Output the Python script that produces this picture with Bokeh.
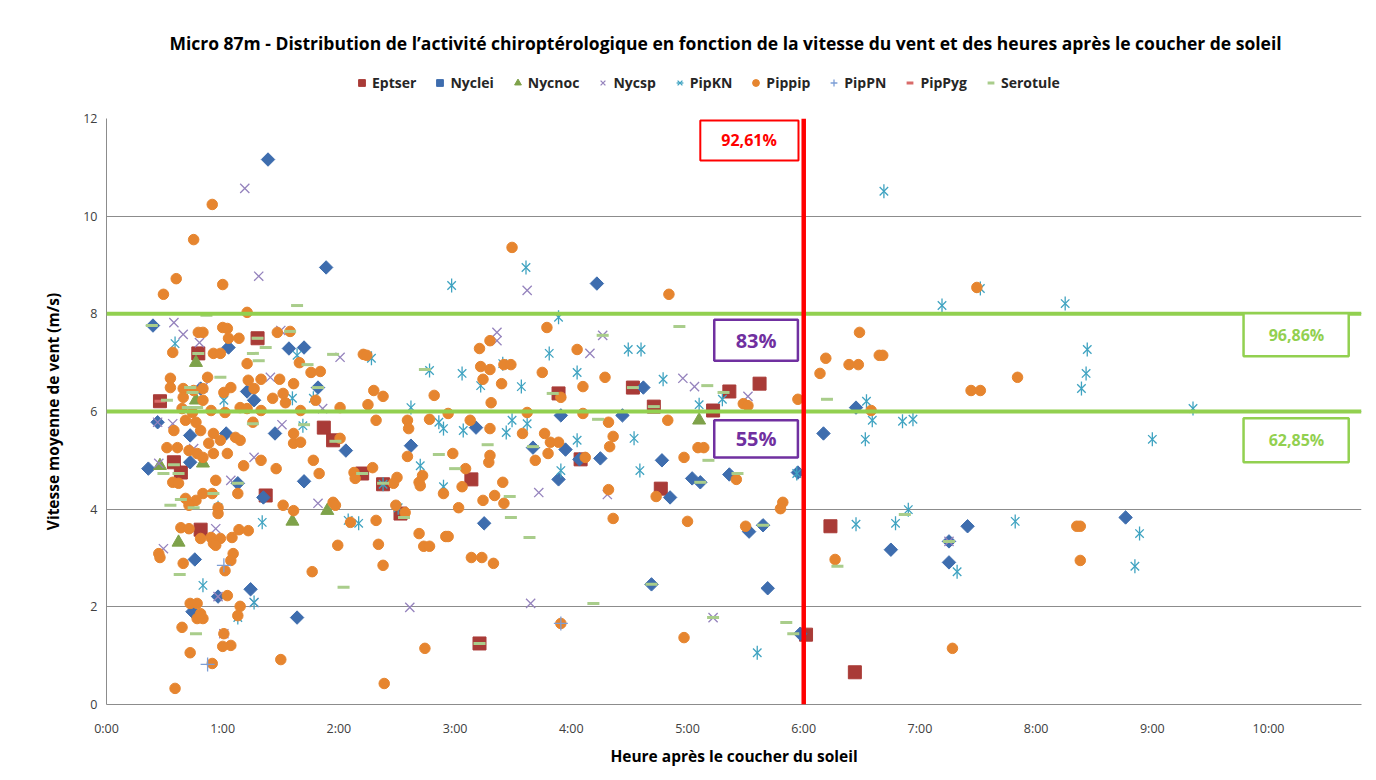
import numpy as np
from bokeh.plotting import figure
from bokeh.layouts import column
from bokeh.models import (Span, Label, BoxAnnotation, Legend, LegendItem, FixedTicker,
                          CustomJSTickFormatter)
from bokeh.embed import file_html
from bokeh.resources import INLINE

# ---------------- data (hours after sunset, mean wind speed m/s) ----------------
eptser_h = [0.79,1.30,0.46,1.87,1.95,0.58,0.64,1.37,0.81,2.20,2.38,2.53,3.14,3.21,3.89,4.53,5.36,5.62,4.71,5.22,4.08,4.77,6.02,6.23,6.44]
eptser_v = [7.19,7.50,6.21,5.67,5.41,4.96,4.75,4.28,3.58,4.73,4.51,3.91,4.61,1.25,6.37,6.49,6.41,6.57,6.10,6.02,5.02,4.42,1.43,3.65,0.66]

nyclei = [(1.39,11.16),(1.89,8.95),(4.22,8.62),(0.40,7.76),(1.05,7.31),(1.57,7.29),(1.70,7.31),(1.82,6.49),
          (0.81,6.47),(1.21,6.41),(1.27,6.23),(0.44,5.78),(0.72,5.51),(1.03,5.55),(1.45,5.55),(2.06,5.20),
          (0.36,4.83),(0.72,4.96),(1.13,4.53),(1.70,4.57),(1.35,4.24),(0.76,2.97),(1.24,2.36),(0.96,2.21),
          (0.74,1.90),(1.64,1.78),(2.62,5.30),(3.18,5.67),(3.67,5.26),(3.91,5.92),(3.95,5.22),(4.07,5.02),
          (3.25,3.71),(3.89,4.61),(4.62,6.49),(4.44,5.92),(4.25,5.04),(4.78,5.00),(5.04,4.63),(5.11,4.55),
          (5.36,4.71),(4.85,4.24),(5.53,3.54),(5.65,3.67),(4.69,2.46),(5.69,2.38),(5.97,1.45),(5.95,4.75),
          (6.17,5.55),(6.45,6.08),(6.75,3.17),(7.41,3.65),(7.25,3.34),(7.25,2.91),(8.77,3.83)]
nyclei_h = [a for a, b in nyclei]
nyclei_v = [b for a, b in nyclei]

nycnoc_h = [0.77,0.77,0.46,0.83,1.90,1.60,0.62,5.10]
nycnoc_v = [7.00,6.23,4.89,4.94,3.97,3.75,3.32,5.82]

nycsp = [(1.19,10.57),(1.31,8.77),(3.62,8.48),(3.36,7.62),(3.36,7.45),(0.58,7.82),(0.66,7.58),(0.80,7.41),
         (1.50,7.66),(2.01,7.11),(1.41,6.70),(0.83,6.49),(1.86,6.06),(0.44,5.78),(0.57,5.75),(1.51,5.73),
         (0.75,5.24),(1.27,5.06),(0.45,4.94),(1.07,4.59),(1.82,4.12),(0.94,3.60),(0.49,3.19),(0.96,2.21),
         (1.27,2.09),(1.01,1.45),(3.72,4.34),(2.61,1.99),(3.65,2.07),(4.27,7.56),(4.16,7.19),(4.96,6.68),
         (5.06,6.51),(5.52,6.31),(4.31,4.30),(5.22,1.78),(7.25,3.34)]
nycsp_h = [a for a, b in nycsp]
nycsp_v = [b for a, b in nycsp]

pipkn = [(0.59,7.39),(1.64,7.15),(1.01,6.23),(1.60,6.27),(1.78,6.27),(1.69,5.71),(0.96,4.03),(1.34,3.73),
         (0.83,2.44),(1.27,2.09),(1.13,1.78),(2.97,8.58),(3.61,8.95),(3.89,7.93),(2.28,7.09),(2.78,6.84),
         (3.06,6.78),(3.41,6.98),(3.81,7.19),(4.05,6.80),(3.22,6.53),(3.57,6.51),(2.62,6.08),(2.86,5.78),
         (2.90,5.65),(3.07,5.61),(3.44,5.57),(3.49,5.82),(3.62,5.75),(4.05,5.41),(2.70,4.89),(2.38,4.51),
         (2.90,4.46),(2.51,4.03),(2.08,3.77),(2.17,3.71),(3.91,4.79),(4.49,7.27),(4.60,7.27),(4.79,6.66),
         (5.30,6.25),(5.10,6.14),(4.54,5.45),(4.59,4.79),(5.94,4.73),(5.60,1.06),(6.69,10.51),(7.52,8.52),
         (7.19,8.17),(8.25,8.21),(8.44,7.27),(8.43,6.78),(8.39,6.47),(6.54,6.21),(9.35,6.06),(6.59,5.82),
         (6.85,5.80),(6.94,5.84),(6.53,5.43),(9.00,5.43),(6.90,3.99),(6.45,3.69),(6.79,3.71),(7.82,3.75),
         (7.32,2.72),(8.89,3.50),(8.85,2.83)]
pipkn_h = [a for a, b in pipkn]
pipkn_v = [b for a, b in pipkn]

pippip = [(0.91,10.24),(0.75,9.52),(0.60,8.72),(0.49,8.40),(1.00,8.60),(1.21,8.03),(3.49,9.36),(4.84,8.40),(7.49,8.54),
          (0.57,7.21),(0.79,7.62),(0.83,7.62),(1.00,7.72),(1.04,7.70),(1.14,7.50),(1.05,7.50),(0.92,7.19),(0.98,7.19),
          (1.21,6.98),(1.47,7.62),(1.58,7.64),(1.66,7.00),(1.76,6.80),(1.84,6.82),(1.33,6.66),(1.49,6.66),(1.61,6.57),
          (0.55,6.68),(0.55,6.49),(0.66,6.47),(0.75,6.43),(0.83,6.47),(0.87,6.70),(1.01,6.39),(1.07,6.49),(1.22,6.64),
          (1.27,6.47),(0.83,6.23),(0.66,6.29),(1.43,6.27),(1.52,6.37),(1.54,6.18),(1.80,6.23),(2.01,6.08),(1.15,6.08),
          (1.21,6.06),(0.65,6.06),(0.74,5.98),(0.90,6.02),(1.02,5.98),(1.33,6.02),(1.67,6.02),(0.58,5.61),(0.68,5.82),
          (0.77,5.78),(0.81,5.61),(0.92,5.55),(0.98,5.41),(0.88,5.35),(1.11,5.47),(1.15,5.41),(1.26,5.78),(1.61,5.55),
          (1.61,5.35),(1.67,5.37),(0.52,5.26),(0.61,5.26),(0.71,5.20),(0.78,5.14),(0.83,5.06),(0.92,5.14),(1.04,5.14),
          (1.33,5.00),(1.18,4.89),(0.57,4.55),(0.62,4.53),(0.94,4.59),(1.46,4.83),(1.83,4.73),(1.78,5.00),(1.13,4.32),
          (0.91,4.32),(0.83,4.32),(0.68,4.22),(0.77,4.18),(0.71,4.08),(0.96,4.03),(1.52,4.08),(1.61,3.97),(1.95,4.14),
          (0.96,3.91),(0.64,3.62),(0.71,3.60),(0.81,3.40),(0.90,3.42),(1.14,3.58),(1.22,3.56),(1.08,3.42),(0.98,3.40),
          (0.92,3.30),(0.45,3.09),(0.46,3.01),(0.94,3.26),(1.09,3.09),(1.07,2.95),(1.02,2.74),(0.66,2.89),(1.99,3.26),
          (1.77,2.72),(1.04,2.23),(0.72,2.07),(0.78,2.07),(1.15,2.01),(1.13,1.82),(0.78,1.76),(0.83,1.76),(0.81,1.86),
          (0.65,1.58),(1.01,1.45),(1.00,1.19),(1.07,1.21),(0.72,1.06),(1.50,0.92),(0.91,0.84),(0.59,0.33),
          (2.21,7.17),(2.24,7.15),(3.79,7.72),(3.30,7.45),(3.21,7.29),(3.22,6.92),(3.30,6.86),(3.42,6.96),(3.48,6.96),
          (3.75,6.80),(3.24,6.66),(3.40,6.57),(2.30,6.43),(2.38,6.31),(2.25,6.14),(2.82,6.33),(3.31,6.18),(3.91,6.29),
          (2.94,5.96),(3.62,5.98),(2.32,5.82),(2.59,5.82),(2.60,5.65),(2.78,5.84),(3.13,5.82),(3.30,5.65),(3.58,5.55),
          (3.77,5.55),(3.82,5.37),(3.89,5.37),(2.01,5.45),(2.98,5.14),(2.59,5.08),(3.30,5.10),(3.29,4.96),(3.69,5.00),
          (3.80,5.14),(2.29,4.85),(2.72,4.69),(2.69,4.55),(2.70,4.48),(2.13,4.75),(2.14,4.63),(2.50,4.65),(2.47,4.53),
          (3.09,4.83),(3.06,4.46),(2.90,4.32),(3.41,4.55),(3.34,4.28),(3.42,4.12),(3.24,4.18),(3.03,4.03),(2.49,4.08),
          (2.57,3.93),(1.97,4.08),(2.10,3.73),(2.32,3.77),(2.69,3.50),(2.92,3.44),(2.94,3.44),(2.34,3.28),(2.73,3.24),
          (2.78,3.24),(3.14,3.01),(3.23,3.01),(3.33,2.89),(2.38,2.85),(3.91,1.66),(2.74,1.15),(2.39,0.43),
          (4.05,7.27),(4.29,6.70),(4.10,6.51),(5.48,6.16),(5.52,6.12),(5.95,6.25),(4.10,5.96),(4.32,5.78),(4.83,5.82),
          (4.36,5.49),(4.33,5.28),(5.09,5.26),(5.14,5.26),(4.97,5.06),(4.12,5.06),(5.42,4.61),(4.32,4.40),(4.73,4.26),
          (5.82,4.14),(5.80,4.01),(4.36,3.81),(5.00,3.75),(5.50,3.65),(4.97,1.37),
          (6.48,7.62),(6.19,7.09),(6.14,6.78),(6.39,6.96),(6.47,6.96),(6.65,7.15),(6.68,7.15),(7.84,6.70),(7.44,6.43),
          (7.52,6.43),(6.58,6.02),(8.35,3.65),(8.38,3.65),(8.38,2.95),(6.27,2.97),(7.28,1.15)]
pippip_h = [a for a, b in pippip]
pippip_v = [b for a, b in pippip]

pippn_h = [1.01, 0.87, 3.91]
pippn_v = [2.85, 0.82, 1.66]

pippyg_h = [0.46, 1.30]
pippyg_v = [6.21, 7.50]

serotule = [(1.64,8.17),(0.86,7.97),(0.39,7.76),(0.79,7.19),(1.30,7.50),(1.26,7.19),(1.31,7.04),(1.37,7.31),
            (1.58,7.64),(1.73,6.96),(1.95,7.17),(1.82,6.49),(0.98,6.70),(0.72,6.49),(0.74,6.39),(0.52,6.23),
            (0.70,6.08),(0.78,6.08),(1.26,5.75),(1.70,5.73),(0.49,4.73),(0.62,4.73),(0.58,4.91),(1.13,4.53),
            (0.92,4.32),(0.55,4.08),(0.64,4.20),(0.75,4.03),(0.63,2.66),(0.77,1.45),(2.04,2.40),(2.74,6.86),
            (3.84,6.37),(1.97,5.39),(2.86,5.12),(3.28,5.32),(3.67,5.28),(3.00,4.83),(2.20,4.73),(2.38,4.53),
            (3.47,4.26),(2.56,3.83),(3.48,3.83),(3.64,3.42),(3.21,1.25),(4.93,7.74),(4.27,7.56),(4.53,6.49),
            (5.17,6.53),(5.31,6.39),(4.71,6.10),(4.23,5.84),(5.18,5.00),(5.11,4.55),(5.43,4.73),(5.65,3.67),
            (4.69,2.46),(4.19,2.07),(5.22,1.78),(5.85,1.68),(5.91,1.45),(6.20,6.25),(6.87,3.89),(6.29,2.83),(7.25,3.34)]
serotule_h = [a for a, b in serotule]
serotule_v = [b for a, b in serotule]

series_names = ["Eptser", "Nyclei", "Nycnoc", "Nycsp", "PipKN", "Pippip", "PipPN", "PipPyg", "Serotule"]
x_ticks = list(range(0, 11))
y_ticks = [0, 2, 4, 6, 8, 10, 12]
threshold_hour = 6
wind_thresholds = [6, 8]
title_text = ("Micro 87m - Distribution de l\u2019activit\u00e9 chiropt\u00e9rologique en fonction de la "
              "vitesse du vent et des heures apr\u00e8s le coucher de soleil")

FONT = "Open Sans"
W, H_HEAD, H_MAIN = 1366, 108, 662
FRAME_L, FRAME_R = 106, 1361   # frame edges shared by both stacked figures (column aligns them)

C_EPT = "#A93B37"
C_NYC = "#3E6DAE"
C_NOC = "#7EA24A"
C_NSP = "#9583BD"
C_PKN = "#3FA3C1"
C_PIP = "#E6852F"
C_PPN = "#7C9ED6"
C_PYG = "#D96B69"
C_SER = "#A9CD8B"


def add_series(fig, data):
    """data: list of (h, v) per series in legend order; returns renderer lists."""
    (eh, ev), (nh, nv), (oh, ov), (sh, sv), (kh, kv), (ph, pv), (nnh, nnv), (yh, yv), (seh, sev) = data
    r = []
    r.append([fig.scatter(eh, ev, marker="square", size=13, fill_color=C_EPT, line_color=C_EPT)])
    r.append([fig.scatter(nh, nv, marker="square", angle=np.pi / 4, size=9.5, fill_color=C_NYC, line_color=C_NYC)])
    r.append([fig.scatter(oh, ov, marker="triangle", size=13, fill_color=C_NOC, line_color=C_NOC)])
    r.append([fig.scatter(sh, sv, marker="x", size=13, line_color=C_NSP, line_width=1.3)])
    r.append([fig.scatter(kh, kv, marker="x", size=12, line_color=C_PKN, line_width=1.3),
              fig.scatter(kh, kv, marker="dash", angle=np.pi / 2, size=14, line_color=C_PKN, line_width=1.3)])
    r.append([fig.scatter(ph, pv, marker="circle", size=10.5, fill_color=C_PIP, line_color=C_PIP)])
    r.append([fig.scatter(nnh, nnv, marker="cross", size=14, line_color=C_PPN, line_width=1.3)])
    r.append([fig.scatter(yh, yv, marker="dash", size=11, line_color=C_PYG, line_width=3)])
    r.append([fig.scatter(seh, sev, marker="dash", size=12, line_color=C_SER, line_width=3)])
    return r


# ---------------- header (title + legend) ----------------
head = figure(width=W, height=H_HEAD, output_backend="svg", toolbar_location=None,
              x_range=(FRAME_L, FRAME_R), y_range=(0, H_HEAD), min_border=0)
head.axis.visible = False
head.grid.visible = False
head.outline_line_color = None
head.background_fill_color = "white"
head.border_fill_color = "white"
head.add_layout(Label(x=725, y=H_HEAD - 42, text=title_text, text_align="center", text_baseline="middle",
                      text_font=FONT, text_font_size="17.5px", text_font_style="bold", text_color="#000000"))
# legend proxies: one undrawable (NaN) point each, only used to draw the legend swatches
proxy = [([np.nan], [np.nan])] * 9
head_r = add_series(head, proxy)
legend = Legend(items=[LegendItem(label=n, renderers=rr) for n, rr in zip(series_names, head_r)],
                orientation="horizontal", location=(247, 16))
legend.label_text_font = FONT
legend.label_text_font_size = "14px"
legend.label_text_font_style = "bold"
legend.label_text_color = "#262626"
legend.glyph_width = 17
legend.glyph_height = 17
legend.label_height = 17
legend.label_standoff = 2
legend.spacing = 15
legend.padding = 0
legend.margin = 0
legend.border_line_color = None
legend.background_fill_alpha = 0
head.add_layout(legend, "center")

# ---------------- main plot ----------------
p = figure(width=W, height=H_MAIN, output_backend="svg", toolbar_location=None,
           x_range=(0, 10.8), y_range=(0, 12),
           min_border_left=FRAME_L, min_border_right=W - FRAME_R, min_border_bottom=66, min_border_top=10)
p.outline_line_color = None
p.background_fill_color = "white"
p.border_fill_color = "white"

p.xaxis.ticker = FixedTicker(ticks=x_ticks)
p.xaxis.formatter = CustomJSTickFormatter(code="return Math.round(tick) + ':00';")
p.yaxis.ticker = FixedTicker(ticks=y_ticks)
for ax in (p.xaxis[0], p.yaxis[0]):
    ax.axis_line_color = "#8C8C8C"
    ax.major_tick_line_color = None
    ax.minor_tick_line_color = None
    ax.major_label_text_font = FONT
    ax.major_label_text_font_size = "12.5px"
    ax.major_label_text_color = "#404040"
    ax.axis_label_text_font = FONT
    ax.axis_label_text_font_size = "15.5px"
    ax.axis_label_text_font_style = "bold"
    ax.axis_label_text_color = "#000000"
p.xaxis.axis_label = "Heure apr\u00e8s le coucher du soleil"
p.yaxis.axis_label = "Vitesse moyenne de vent (m/s)"
p.xaxis.major_label_standoff = 9
p.xaxis.axis_label_standoff = 5
p.yaxis.major_label_standoff = 3
p.yaxis.axis_label_standoff = 16

p.xgrid.visible = False
p.ygrid.grid_line_color = "#8C8C8C"
p.ygrid.grid_line_width = 1

add_series(p, [(eptser_h, eptser_v), (nyclei_h, nyclei_v), (nycnoc_h, nycnoc_v), (nycsp_h, nycsp_v),
               (pipkn_h, pipkn_v), (pippip_h, pippip_v), (pippn_h, pippn_v), (pippyg_h, pippyg_v),
               (serotule_h, serotule_v)])

for w in wind_thresholds:
    p.add_layout(Span(location=w, dimension="width", line_color="#92D050", line_width=4))
p.add_layout(Span(location=threshold_hour, dimension="height", line_color="#FF0000", line_width=4.5))

boxes = [
    # left, right, bottom, top, text, x, y, border colour, text colour, font size, border width
    (5.11, 5.955, 11.14, 11.96, "92,61%", 5.53, 11.55, "#FF0000", "#FF0000", "16px", 2),
    (5.23, 5.95, 7.04, 7.88, "83%", 5.59, 7.45, "#7030A0", "#7030A0", "20px", 2.5),
    (5.23, 5.95, 5.06, 5.82, "55%", 5.59, 5.45, "#7030A0", "#7030A0", "20px", 2.5),
    (9.785, 10.69, 7.13, 8.01, "96,86%", 10.24, 7.56, "#92D050", "#92D050", "16px", 2.5),
    (9.785, 10.69, 4.96, 5.86, "62,85%", 10.24, 5.42, "#92D050", "#92D050", "16px", 2.5),
]
for l, r, b, t, txt, x, y, bc, tc, fs, lw in boxes:
    p.add_layout(BoxAnnotation(left=l, right=r, bottom=b, top=t, fill_color="white", fill_alpha=1,
                               line_color=bc, line_width=lw, line_alpha=1))
    p.add_layout(Label(x=x, y=y, text=txt, text_align="center", text_baseline="middle",
                       text_color=tc, text_font=FONT, text_font_size=fs, text_font_style="bold"))

layout = column(head, p, spacing=0)
open("out.html", "w").write(file_html(layout, INLINE))
